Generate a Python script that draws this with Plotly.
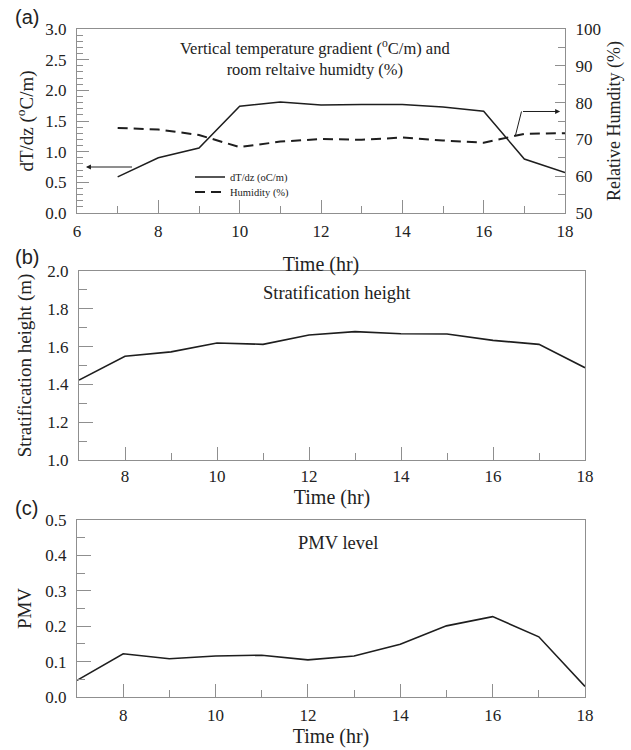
import plotly.graph_objects as go

hours = [7, 8, 9, 10, 11, 12, 13, 14, 15, 16, 17, 18]
dTdz = [0.59, 0.90, 1.06, 1.74, 1.81, 1.76, 1.77, 1.77, 1.73, 1.66, 0.88, 0.66]
humidity = [73.1, 72.7, 71.2, 67.9, 69.4, 70.1, 69.9, 70.5, 69.7, 69.1, 71.5, 71.7]
strat_height = [1.423, 1.549, 1.572, 1.619, 1.612, 1.661, 1.679, 1.668, 1.667, 1.633, 1.612, 1.488]
pmv = [0.047, 0.122, 0.108, 0.116, 0.118, 0.105, 0.116, 0.149, 0.201, 0.227, 0.170, 0.030]

W, H = 631, 750
SERIF = "Liberation Serif"
AX = "#8f8f8f"
TXT = "#222222"
LINE = "#1e1e1e"


def px_x(v):
    return v / W


def px_y(v):
    return 1 - v / H


def dx(a, b):
    return [a / W, b / W]


def dy(top, bottom):
    return [1 - bottom / H, 1 - top / H]


fig = go.Figure()

fig.add_trace(go.Scatter(x=hours, y=dTdz, mode="lines", name="dT/dz (oC/m)", legend="legend",
                         line=dict(color=LINE, width=1.5), xaxis="x", yaxis="y"))
fig.add_trace(go.Scatter(x=hours, y=humidity, mode="lines", name="Humidity (%)", legend="legend2",
                         line=dict(color=LINE, width=2, dash="10px,6px"), xaxis="x", yaxis="y2"))
fig.add_trace(go.Scatter(x=hours, y=strat_height, mode="lines", showlegend=False,
                         line=dict(color=LINE, width=1.6), xaxis="x2", yaxis="y3"))
fig.add_trace(go.Scatter(x=hours, y=pmv, mode="lines", showlegend=False,
                         line=dict(color=LINE, width=1.6), xaxis="x3", yaxis="y4"))

tickfont = dict(family=SERIF, size=17, color=TXT)
titlefont = dict(family=SERIF, size=19, color=TXT)


def xax(domain, rng, anchor, standoff, tls=2):
    return dict(domain=domain, range=rng, anchor=anchor, tick0=0, dtick=2,
                ticks="inside", ticklen=13, tickcolor=AX, tickwidth=1,
                minor=dict(dtick=1, tick0=0, ticks="inside", ticklen=7, tickcolor=AX),
                showline=True, linecolor=AX, linewidth=1.2, mirror=True,
                showgrid=False, zeroline=False, tickfont=dict(tickfont),
                ticklabelstandoff=tls, automargin=False,
                title=dict(text="Time (hr)", font=dict(titlefont, size=20), standoff=standoff))


def yax(domain, rng, anchor, dtick, mdtick, title, standoff, side="left",
        overlaying=None, mirror=True, fmt=".1f", tl=(13, 7), tsize=19):
    d = dict(domain=domain, range=rng, anchor=anchor, dtick=dtick, tick0=0,
             ticks="inside", ticklen=tl[0], tickcolor=AX, tickwidth=1,
             minor=dict(dtick=mdtick, tick0=0, ticks="inside", ticklen=tl[1], tickcolor=AX),
             showline=True, linecolor=AX, linewidth=1.2, mirror=mirror,
             showgrid=False, zeroline=False, tickfont=dict(tickfont), tickformat=fmt,
             ticklabelstandoff=6, automargin=False,
             side=side, title=dict(text=title, font=dict(titlefont, size=tsize), standoff=standoff))
    if overlaying:
        d["overlaying"] = overlaying
    return d


legend_font = dict(family=SERIF, size=10.5, color=TXT)

fig.update_layout(
    width=W, height=H,
    margin=dict(l=0, r=0, t=0, b=0),
    paper_bgcolor="white", plot_bgcolor="white",
    font=dict(family=SERIF, color=TXT),
    xaxis=xax(dx(77, 565), [6, 18], "y", 17),
    yaxis=yax(dy(29, 213), [0, 3], "x", 0.5, 0.1, "dT/dz (<sup>o</sup>C/m)", 6,
              mirror=False, tl=(12, 6)),
    yaxis2=yax(dy(29, 213), [50, 100], "x", 10, 5, "Relative Humdity (%)", 7,
               side="right", overlaying="y", mirror=False, fmt="d", tl=(10, 7), tsize=18),
    xaxis2=xax(dx(79, 585), [7, 18], "y3", 0, tls=0),
    yaxis3=yax(dy(271, 460), [1.0, 2.0], "x2", 0.2, 0.1, "Stratification height (m)", 10,
               tl=(14, 8)),
    xaxis3=xax(dx(77, 585), [7, 18], "y4", 5),
    yaxis4=yax(dy(520, 697), [0, 0.5], "x3", 0.1, 0.05, "PMV", 8, tl=(14, 8)),
    legend=dict(x=px_x(190), y=px_y(177), xanchor="left", yanchor="middle",
                bgcolor="rgba(0,0,0,0)", borderwidth=0, font=legend_font),
    legend2=dict(x=px_x(190), y=px_y(192), xanchor="left", yanchor="middle",
                 bgcolor="rgba(0,0,0,0)", borderwidth=0, font=legend_font),
    showlegend=True,
)


def label(text, x, y, size, family=SERIF, xanchor="center"):
    return dict(text=text, x=px_x(x), y=px_y(y), xref="paper", yref="paper",
                showarrow=False, xanchor=xanchor, yanchor="middle", align="center",
                font=dict(family=family, size=size, color=TXT))


annotations = [
    label("Vertical temperature gradient (<sup>o</sup>C/m) and<br>room reltaive humidty (%)",
          315, 58, 16.5),
    label("Stratification height", 337, 293, 18.5),
    label("PMV level", 338, 543, 18.5),
    label("(a)", 13, 17, 20, "Liberation Sans", "left"),
    label("(b)", 13, 257, 20, "Liberation Sans", "left"),
    label("(c)", 13, 508, 20, "Liberation Sans", "left"),
    # left arrow pointing to left axis
    dict(x=6.22, y=0.75, ax=7.39, ay=0.75, xref="x", yref="y", axref="x", ayref="y",
         showarrow=True, arrowhead=2, arrowsize=1, arrowwidth=1, arrowcolor=LINE, text=""),
    # right arrow pointing to right axis
    dict(x=17.88, y=1.655, ax=16.93, ay=1.655, xref="x", yref="y", axref="x", ayref="y",
         showarrow=True, arrowhead=2, arrowsize=1, arrowwidth=1, arrowcolor=LINE, text=""),
]
fig.update_layout(annotations=annotations)
fig.add_shape(type="line", x0=16.78, y0=1.26, x1=16.93, y1=1.655, xref="x", yref="y",
              line=dict(color=LINE, width=1))

fig.write_html("out.html", config={"displayModeBar": False},
               post_script="document.body.style.margin='0';document.body.style.padding='0';")
